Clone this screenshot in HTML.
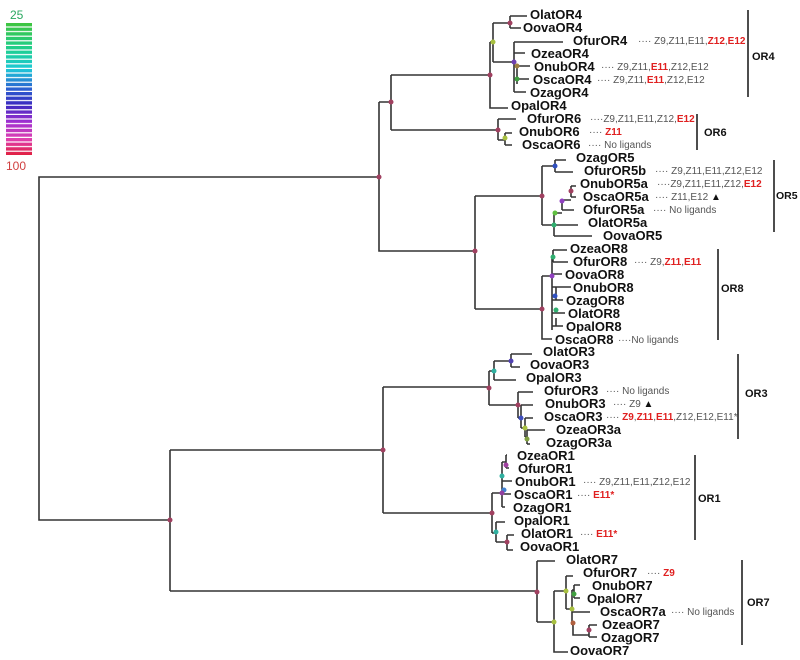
<!DOCTYPE html>
<html><head><meta charset="utf-8"><style>
html,body{margin:0;padding:0;background:#fff;}
svg{display:block;}
.l{font-family:"Liberation Sans",sans-serif;font-weight:bold;font-size:13px;fill:#111;}
.a{font-family:"Liberation Sans",sans-serif;font-size:10px;fill:#555;}
.r{fill:#e02020;font-weight:bold;}
.g{font-family:"Liberation Sans",sans-serif;font-weight:bold;font-size:11px;fill:#111;}
</style></head><body>
<svg width="800" height="660" viewBox="0 0 800 660" xmlns="http://www.w3.org/2000/svg">
<defs><linearGradient id="cb" x1="0" y1="0" x2="0" y2="1">
<stop offset="0" stop-color="#3fc43f"/><stop offset="0.2" stop-color="#1fcf8f"/><stop offset="0.35" stop-color="#1ec8d8"/><stop offset="0.5" stop-color="#2a5fd0"/><stop offset="0.62" stop-color="#3a2ac0"/><stop offset="0.75" stop-color="#a030d0"/><stop offset="0.88" stop-color="#e040b0"/><stop offset="1" stop-color="#e02040"/></linearGradient>
<pattern id="st" width="26" height="4.6" patternUnits="userSpaceOnUse"><rect y="3.4" width="26" height="1.2" fill="#fff"/></pattern></defs>
<rect x="6" y="23" width="26" height="132" fill="url(#cb)"/>
<rect x="6" y="23" width="26" height="132" fill="url(#st)"/>
<text x="10" y="19" font-family="Liberation Sans,sans-serif" font-size="12" fill="#2aa860">25</text>
<text x="6" y="170" font-family="Liberation Sans,sans-serif" font-size="12" fill="#d04040">100</text>

<g fill="none" stroke="#333" stroke-width="1.6">
<path d="M379 177H39V520H170"/>
<path d="M170 450V591"/>
<path d="M170 450H383V387M383 450V513"/>
<path d="M379 102V251H475"/>
<path d="M379 102H391V75M391 102V130"/>
<path d="M391 75H490M490 42V108H508"/>
<path d="M490 42H493V23M493 42V62"/>
<path d="M493 23H510M510 16V28M510 16H527M510 28H521"/>
<path d="M493 62H514M514 42V92M514 42H563M514 53H525M514 66H517V84M517 66H530M517 79H529M514 92H526"/>
<path d="M391 130H498M498 119V140M498 119H516M498 140H505M505 133V145M505 133H512M505 145H512"/>
<path d="M475 196V309"/>
<path d="M475 196H542M542 166V225"/>
<path d="M542 166H555M555 160V172M555 160H566M555 172H573"/>
<path d="M542 225H554M554 213V236M554 236H592M554 225H578M554 213H562M562 200V210M562 210H574M562 200H571M571 186V197M571 186H576M571 197H576"/>
<path d="M475 309H542M542 276V339H552M542 276H552M552 257V330"/>
<path d="M552 257H553M553 250V262M553 250H567M553 262H568"/>
<path d="M552 274H562M552 287H556V300M556 287H571M552 300H563M552 313H565M552 326H556V318M552 326H563"/>
<path d="M383 387H489M489 371V405"/>
<path d="M489 371H494M494 361V380M494 361H511M511 354V367M511 354H532M511 367H520M494 380H516"/>
<path d="M489 405H518M518 392V418M518 392H533M518 418H521M521 405V428M521 405H533M521 428H525M525 418V437M525 418H533M525 437H527M527 430V444M527 430H545M527 444H530"/>
<path d="M383 513H492M492 493V533"/>
<path d="M492 493H502M502 462V507M502 462H506M506 455V468M506 455H507M506 468H509M502 481H512M502 494H511M502 507H505"/>
<path d="M492 533H496M496 522V542M496 522H505M496 542H507M507 535V550M507 535H514M507 550H513"/>
<path d="M170 591H537M537 561V622M537 561H555M537 622H554M554 591V652H568M554 591H566"/>
<path d="M566 576V609M566 576H573M566 609H572M572 590V625M572 590H574M574 585V598M574 585H580M574 598H580M572 612H590M572 625H573V635H589M589 625V637M589 625H597M589 637H597"/>
<path d="M748 10V97M697 114V150M774 160V232M718 249V340M738 354V439M695 455V540M742 560V645" stroke="#222"/>
</g>

<g stroke="none">
<circle cx="379" cy="177" r="2.5" fill="#a04060"/><circle cx="391" cy="102" r="2.5" fill="#a04060"/>
<circle cx="490" cy="75" r="2.5" fill="#a04060"/><circle cx="493" cy="42" r="2.5" fill="#a8c040"/>
<circle cx="510" cy="23" r="2.5" fill="#a04060"/><circle cx="514" cy="62" r="2.5" fill="#7040b0"/>
<circle cx="517" cy="66" r="2.5" fill="#a08040"/><circle cx="517" cy="79" r="2.5" fill="#40a040"/>
<circle cx="498" cy="130" r="2.5" fill="#a04060"/><circle cx="505" cy="138" r="2.5" fill="#a8c040"/>
<circle cx="475" cy="251" r="2.5" fill="#a04060"/><circle cx="542" cy="196" r="2.5" fill="#a04060"/>
<circle cx="555" cy="166" r="2.5" fill="#3050c0"/><circle cx="571" cy="191" r="2.5" fill="#a04060"/>
<circle cx="562" cy="201" r="2.5" fill="#9040c0"/><circle cx="555" cy="213" r="2.5" fill="#60c040"/>
<circle cx="554" cy="225" r="2.5" fill="#30b070"/><circle cx="542" cy="309" r="2.5" fill="#a04060"/>
<circle cx="553" cy="257" r="2.5" fill="#30b070"/><circle cx="552" cy="276" r="2.5" fill="#9040c0"/>
<circle cx="555" cy="296" r="2.5" fill="#3050c0"/><circle cx="556" cy="310" r="2.5" fill="#30b070"/>
<circle cx="170" cy="520" r="2.5" fill="#a04060"/>
<circle cx="383" cy="450" r="2.5" fill="#a04060"/><circle cx="489" cy="388" r="2.5" fill="#a04060"/>
<circle cx="494" cy="371" r="2.5" fill="#30b0a0"/><circle cx="511" cy="361" r="2.5" fill="#5040b0"/>
<circle cx="518" cy="405" r="2.5" fill="#a04060"/><circle cx="521" cy="418" r="2.5" fill="#4050c0"/>
<circle cx="525" cy="428" r="2.5" fill="#a8c040"/><circle cx="527" cy="439" r="2.5" fill="#80a040"/>
<circle cx="492" cy="513" r="2.5" fill="#a04060"/><circle cx="506" cy="465" r="2.5" fill="#a040a0"/>
<circle cx="502" cy="476" r="2.5" fill="#30b0a0"/><circle cx="504" cy="490" r="2.5" fill="#4080d0"/>
<circle cx="502" cy="493" r="2.5" fill="#9040a0"/><circle cx="496" cy="532" r="2.5" fill="#30b0a0"/>
<circle cx="507" cy="542" r="2.5" fill="#a04060"/><circle cx="537" cy="592" r="2.5" fill="#a04060"/>
<circle cx="554" cy="622" r="2.5" fill="#a8c040"/><circle cx="566" cy="591" r="2.5" fill="#a8c040"/>
<circle cx="574" cy="594" r="2.5" fill="#40a040"/><circle cx="572" cy="609" r="2.5" fill="#a8c040"/>
<circle cx="573" cy="623" r="2.5" fill="#b06040"/><circle cx="589" cy="630" r="2.5" fill="#a04060"/>
</g>

<g class="l">
<text x="530" y="19">OlatOR4</text><text x="523" y="32">OovaOR4</text><text x="573" y="45">OfurOR4</text>
<text x="531" y="58">OzeaOR4</text><text x="534" y="71">OnubOR4</text><text x="533" y="84">OscaOR4</text>
<text x="530" y="97">OzagOR4</text><text x="511" y="110">OpalOR4</text>
<text x="527" y="123">OfurOR6</text><text x="519" y="136">OnubOR6</text><text x="522" y="149">OscaOR6</text>
<text x="576" y="162">OzagOR5</text><text x="584" y="175">OfurOR5b</text><text x="580" y="188">OnubOR5a</text>
<text x="583" y="201">OscaOR5a</text><text x="583" y="214">OfurOR5a</text><text x="588" y="227">OlatOR5a</text>
<text x="603" y="240">OovaOR5</text>
<text x="570" y="253">OzeaOR8</text><text x="573" y="266">OfurOR8</text><text x="565" y="279">OovaOR8</text>
<text x="573" y="292">OnubOR8</text><text x="566" y="305">OzagOR8</text><text x="568" y="318">OlatOR8</text>
<text x="566" y="331">OpalOR8</text><text x="555" y="344">OscaOR8</text>
<text x="543" y="356">OlatOR3</text><text x="530" y="369">OovaOR3</text><text x="526" y="382">OpalOR3</text>
<text x="544" y="395">OfurOR3</text><text x="545" y="408">OnubOR3</text><text x="544" y="421">OscaOR3</text>
<text x="556" y="434">OzeaOR3a</text><text x="546" y="447">OzagOR3a</text>
<text x="517" y="460">OzeaOR1</text><text x="518" y="473">OfurOR1</text><text x="515" y="486">OnubOR1</text>
<text x="514" y="499">OscaOR1</text><text x="513" y="512">OzagOR1</text><text x="514" y="525">OpalOR1</text>
<text x="521" y="538">OlatOR1</text><text x="520" y="551">OovaOR1</text>
<text x="566" y="564">OlatOR7</text><text x="583" y="577">OfurOR7</text><text x="592" y="590">OnubOR7</text>
<text x="587" y="603">OpalOR7</text><text x="600" y="616">OscaOR7a</text><text x="602" y="629">OzeaOR7</text>
<text x="601" y="642">OzagOR7</text><text x="570" y="655">OovaOR7</text>
</g>

<g class="a">
<text x="638" y="44">···· Z9,Z11,E11,<tspan class="r">Z12</tspan>,<tspan class="r">E12</tspan></text>
<text x="601" y="70">···· Z9,Z11,<tspan class="r">E11</tspan>,Z12,E12</text>
<text x="597" y="83">···· Z9,Z11,<tspan class="r">E11</tspan>,Z12,E12</text>
<text x="590" y="122">····Z9,Z11,E11,Z12,<tspan class="r">E12</tspan></text>
<text x="589" y="135">····  <tspan class="r" font-weight="normal">Z11</tspan></text>
<text x="588" y="148">···· No ligands</text>
<text x="655" y="174">···· Z9,Z11,E11,Z12,E12</text>
<text x="657" y="187">····Z9,Z11,E11,Z12,<tspan class="r">E12</tspan></text>
<text x="655" y="200">···· Z11,E12 <tspan fill="#111">▲</tspan></text>
<text x="653" y="213">···· No ligands</text>
<text x="634" y="265">···· Z9,<tspan class="r">Z11</tspan>,<tspan class="r">E11</tspan></text>
<text x="618" y="343">····No ligands</text>
<text x="606" y="394">···· No ligands</text>
<text x="613" y="407">···· Z9 <tspan fill="#111">▲</tspan></text>
<text x="606" y="420">···· <tspan class="r">Z9</tspan>,<tspan class="r">Z11</tspan>,<tspan class="r">E11</tspan>,Z12,E12,E11*</text>
<text x="583" y="485">···· Z9,Z11,E11,Z12,E12</text>
<text x="577" y="498">····  <tspan class="r">E11*</tspan></text>
<text x="580" y="537">···· <tspan class="r">E11*</tspan></text>
<text x="647" y="576">···· <tspan class="r">Z9</tspan></text>
<text x="671" y="615">···· No ligands</text>
</g>

<g class="g">
<text x="752" y="60">OR4</text><text x="704" y="136">OR6</text><text x="776" y="199" font-size="10.5">OR5</text>
<text x="721" y="292">OR8</text><text x="745" y="397">OR3</text><text x="698" y="502">OR1</text>
<text x="747" y="606">OR7</text>
</g>
</svg>
</body></html>
